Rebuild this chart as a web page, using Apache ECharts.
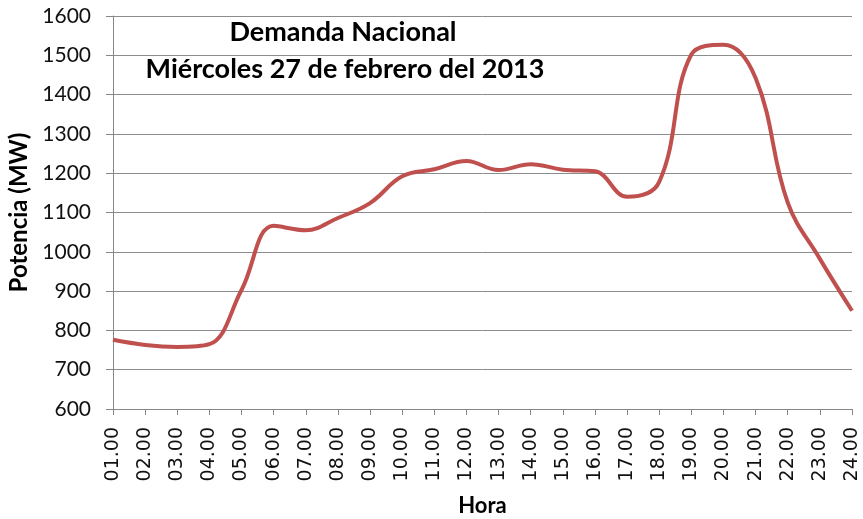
<!DOCTYPE html>
<html>
<head>
<meta charset="utf-8">
<script src="https://cdn.jsdelivr.net/npm/echarts@6/dist/echarts.min.js"></script>
<style>html,body{margin:0;padding:0;background:#fff;}#c{width:863px;height:519px;}</style>
</head>
<body>
<div id="c"></div>
<script>
const horas = ['01.00','02.00','03.00','04.00','05.00','06.00','07.00','08.00','09.00','10.00','11.00','12.00','13.00','14.00','15.00','16.00','17.00','18.00','19.00','20.00','21.00','22.00','23.00','24.00'];
const potencia = [776, 763, 758, 765, 903, 1066, 1055, 1086, 1124, 1192, 1210, 1231, 1208, 1223, 1209, 1205, 1140, 1178, 1502, 1527, 1442, 1125, 982, 850];
const titulo1 = 'Demanda Nacional';
const titulo2 = 'Miércoles 27 de febrero del 2013';

const chart = echarts.init(document.getElementById('c'));
chart.setOption({
  animation: false,
  backgroundColor: '#fff',
  title: [
    {text: titulo1, left: 338, top: 14, textAlign: 'center', textStyle: {fontFamily: 'Lato', fontWeight: 'bold', fontSize: 27, color: '#000'}},
    {text: titulo2, left: 340, top: 51, textAlign: 'center', textStyle: {fontFamily: 'Lato', fontWeight: 'bold', fontSize: 27, color: '#000'}}
  ],
  grid: {left: 113, right: 11, top: 16, bottom: 110, containLabel: false, outerBoundsMode: 'none'},
  xAxis: {
    type: 'category', data: horas, boundaryGap: false,
    name: 'Hora', nameLocation: 'middle', nameGap: 86,
    nameTextStyle: {fontFamily: 'Lato', fontWeight: 'bold', fontSize: 22, color: '#000'},
    axisLine: {lineStyle: {color: '#868686', width: 1}},
    axisTick: {show: true, alignWithLabel: true, length: 6, lineStyle: {color: '#868686'}},
    axisLabel: {rotate: 90, interval: 0, fontFamily: 'DejaVu Sans', fontSize: 19, color: '#111', margin: 18},
    splitLine: {show: false}
  },
  yAxis: {
    type: 'value', min: 600, max: 1600, interval: 100,
    name: 'Potencia (MW)', nameLocation: 'middle', nameGap: 78, nameRotate: 90,
    nameTextStyle: {fontFamily: 'Lato', fontWeight: 'bold', fontSize: 24, color: '#000'},
    axisLine: {show: true, lineStyle: {color: '#868686', width: 1}},
    axisTick: {show: true, length: 7, lineStyle: {color: '#868686'}},
    axisLabel: {fontFamily: 'Lato', fontSize: 21, color: '#111', margin: 22, formatter: v => String(v)},
    splitLine: {show: true, lineStyle: {color: '#8c8c8c', width: 1}}
  },
  series: [{
    type: 'line', data: potencia, smooth: 0.4, symbol: 'none',
    lineStyle: {color: '#c0504d', width: 4}
  }]
});
</script>
</body>
</html>
